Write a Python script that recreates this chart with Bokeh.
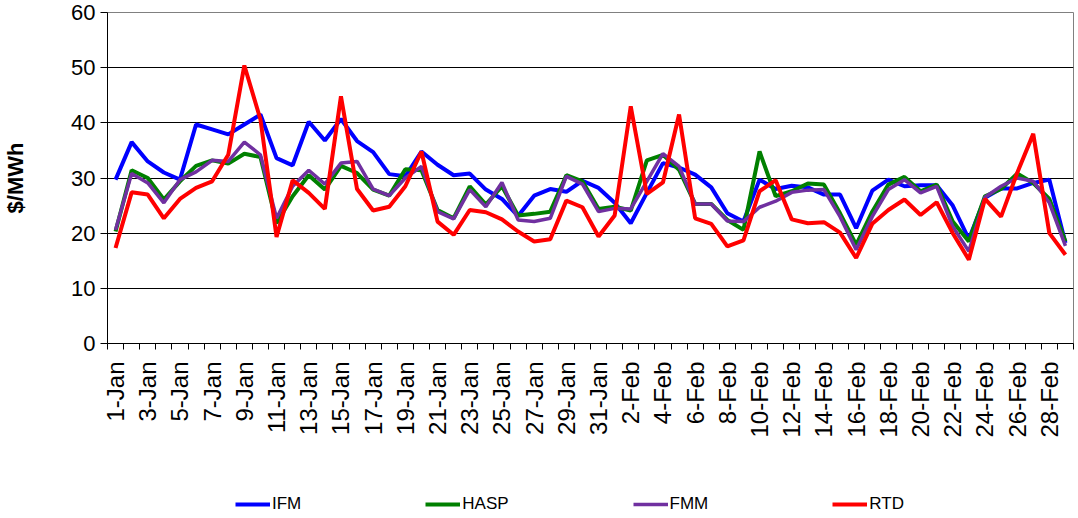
import math
from bokeh.plotting import figure
from bokeh.layouts import column
from bokeh.models import (ColumnDataSource, FixedTicker, Legend, LegendItem, Range1d)
from bokeh.embed import file_html
from bokeh.resources import INLINE

days = [f"{d}-Jan" for d in range(1, 32)] + [f"{d}-Feb" for d in range(1, 30)]

ifm = [29.7, 36.5, 33.0, 31.0, 29.7, 39.7, 38.8, 37.9, 39.7, 41.5,
       33.6, 32.3, 40.2, 36.8, 40.7, 36.7, 34.7, 30.7, 30.3, 34.8,
       32.4, 30.5, 30.8, 27.9, 26.2, 23.1, 26.8, 28.0, 27.5, 29.5,
       28.2, 25.5, 21.8, 27.3, 32.7, 31.9, 30.6, 28.3, 23.6, 22.1,
       29.7, 28.0, 28.6, 28.3, 27.0, 27.0, 20.9, 27.7, 29.7, 28.5,
       28.7, 28.7, 25.0, 18.9, 26.4, 28.1, 28.1, 29.1, 29.7, 18.2]
hasp = [20.3, 31.4, 30.0, 26.1, 29.4, 32.2, 33.2, 32.6, 34.4, 33.8,
        21.8, 26.7, 30.5, 27.9, 32.2, 30.9, 27.9, 26.8, 31.6, 31.4,
        24.2, 22.7, 28.5, 25.2, 28.5, 23.2, 23.5, 23.9, 30.5, 29.4,
        24.4, 24.8, 24.1, 33.2, 34.2, 31.5, 25.3, 25.3, 22.4, 20.6,
        34.8, 26.7, 27.6, 29.0, 28.8, 23.6, 17.9, 23.9, 28.8, 30.2,
        27.6, 28.8, 22.1, 18.5, 26.7, 28.0, 30.8, 29.1, 26.2, 18.5]
fmm = [20.6, 30.8, 29.1, 25.5, 29.7, 31.1, 33.2, 33.0, 36.5, 34.2,
       22.7, 28.5, 31.4, 28.9, 32.7, 33.0, 28.0, 26.8, 30.0, 32.1,
       23.9, 22.6, 27.9, 24.8, 29.2, 22.4, 22.1, 22.7, 30.3, 28.9,
       23.9, 24.5, 24.4, 29.4, 34.4, 32.1, 25.3, 25.3, 22.2, 22.1,
       24.7, 25.8, 27.4, 27.8, 27.9, 23.0, 17.0, 23.0, 27.9, 29.7,
       27.3, 28.5, 21.2, 16.7, 26.5, 28.5, 30.0, 29.4, 25.5, 17.7]
rtd = [17.3, 27.4, 27.0, 22.7, 26.2, 28.2, 29.4, 34.2, 50.4, 40.6,
       19.3, 29.6, 27.3, 24.4, 44.8, 28.0, 24.1, 24.8, 28.5, 34.8,
       22.1, 19.7, 24.2, 23.8, 22.5, 20.3, 18.5, 18.9, 25.9, 24.7,
       19.4, 23.2, 43.0, 27.1, 29.2, 41.5, 22.7, 21.7, 17.6, 18.7,
       27.6, 29.6, 22.5, 21.8, 22.0, 20.1, 15.5, 21.7, 24.2, 26.1,
       23.3, 25.6, 20.0, 15.2, 26.2, 23.0, 30.9, 38.0, 20.0, 16.1]

series_names = ["IFM", "HASP", "FMM", "RTD"]
series_colors = ["#0000FF", "#008000", "#7030A0", "#FF0000"]
series_widths = [4, 4, 3.5, 4]
y_ticks = [0, 10, 20, 30, 40, 50, 60]

FONT = "Liberation Sans"
W = 1075

n = len(days)
xpos = [i + 0.5 for i in range(n)]
src = ColumnDataSource(dict(x=xpos, day=days, IFM=ifm, HASP=hasp, FMM=fmm, RTD=rtd))

xr = Range1d(0, n)
p = figure(width=W, height=443, output_backend="svg", toolbar_location=None,
           x_range=xr, y_range=Range1d(0, 60),
           min_border_left=105, min_border_right=2, min_border_top=12, min_border_bottom=100)
p.background_fill_color = "white"
p.border_fill_color = "white"
p.outline_line_color = "#808080"
p.outline_line_width = 1

# y axis
p.yaxis.ticker = FixedTicker(ticks=y_ticks, minor_ticks=[])
p.yaxis.axis_label = "$/MWh"
p.yaxis.axis_label_text_font = FONT
p.yaxis.axis_label_text_font_style = "bold"
p.yaxis.axis_label_text_font_size = "22px"
p.yaxis.axis_label_text_color = "black"
p.yaxis.axis_label_standoff = 40
p.yaxis.major_label_text_font = FONT
p.yaxis.major_label_text_font_size = "22px"
p.yaxis.major_label_text_color = "black"
p.yaxis.major_tick_out = 7
p.yaxis.major_tick_in = 0
p.yaxis.major_label_standoff = 5
p.yaxis.axis_line_color = "black"
p.yaxis.major_tick_line_color = "black"

# x axis
p.xaxis.ticker = FixedTicker(ticks=xpos[::2], minor_ticks=list(range(n + 1)))
p.xaxis.major_label_overrides = {xpos[i]: days[i] for i in range(0, n, 2)}
p.xaxis.major_label_orientation = math.pi / 2
p.xaxis.major_label_text_font = FONT
p.xaxis.major_label_text_font_size = "24px"
p.xaxis.major_label_text_color = "black"
p.xaxis.major_tick_out = 0
p.xaxis.major_tick_in = 0
p.xaxis.minor_tick_out = 6
p.xaxis.minor_tick_in = 0
p.xaxis.minor_tick_line_color = "black"
p.xaxis.major_label_standoff = 12
p.xaxis.axis_line_color = "black"

p.xgrid.grid_line_color = None
p.ygrid.ticker = FixedTicker(ticks=y_ticks)
p.ygrid.grid_line_color = "black"
p.ygrid.grid_line_width = 1

for name, color, w in zip(series_names, series_colors, series_widths):
    p.line("x", name, source=src, line_color=color, line_width=w)

# legend strip below the chart (same series, drawn out of view; only the legend shows)
leg = figure(width=W, height=73, output_backend="svg", toolbar_location=None,
             x_range=xr, y_range=Range1d(-200, -100),
             min_border_left=0, min_border_right=0, min_border_top=0, min_border_bottom=0)
leg.axis.visible = False
leg.grid.visible = False
leg.outline_line_color = None
leg.background_fill_color = "white"
leg.border_fill_color = "white"
items = []
for name, color, w in zip(series_names, series_colors, series_widths):
    r = leg.line("x", name, source=src, line_color=color, line_width=w)
    items.append(LegendItem(label=name, renderers=[r]))

legend = Legend(items=items, orientation="horizontal", location=(128, 2),
                glyph_width=35, glyph_height=16, label_standoff=2, spacing=124,
                padding=0, margin=0, border_line_color=None,
                background_fill_alpha=0,
                label_text_font=FONT, label_text_font_size="17px",
                label_text_color="black", label_height=16)
leg.add_layout(legend, "center")

layout = column(p, leg, spacing=0)
open("out.html", "w").write(file_html(layout, INLINE))
